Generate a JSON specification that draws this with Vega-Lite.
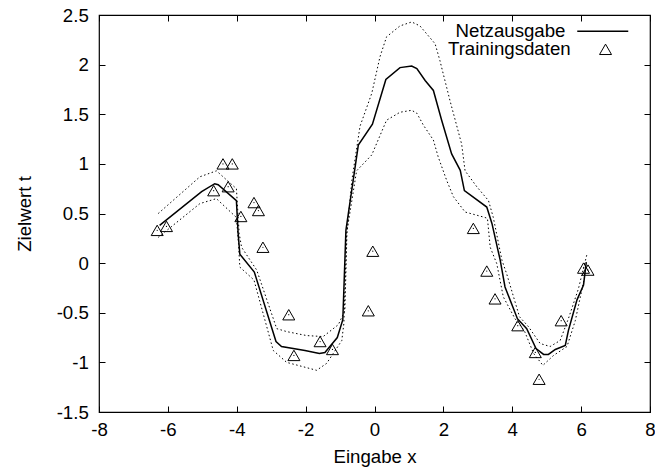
{
  "$schema": "https://vega.github.io/schema/vega-lite/v6.json",
  "width": 551,
  "height": 397,
  "autosize": {"type": "none"},
  "padding": {"left": 99, "top": 15, "right": 5, "bottom": 57},
  "background": "white",
  "config": {
    "font": "Liberation Sans",
    "view": {"stroke": "black", "strokeWidth": 1.2},
    "axis": {
      "grid": false,
      "domain": false,
      "tickColor": "black",
      "tickSize": -6,
      "tickWidth": 1,
      "labelColor": "black",
      "labelFont": "Liberation Sans",
      "labelFontSize": 18.67,
      "titleFont": "Liberation Sans",
      "titleFontSize": 18.67,
      "titleFontWeight": "normal",
      "titleColor": "black",
      "labelFlush": false,
      "labelOverlap": false
    },
    "legend": {
      "labelFont": "Liberation Sans",
      "labelFontSize": 18.67,
      "labelColor": "black",
      "padding": 0
    }
  },
  "datasets": {
    "net": [
      {"x": -6.24, "y": 0.38}, {"x": -5.02, "y": 0.72}, {"x": -4.64, "y": 0.80}, {"x": -4.54, "y": 0.79},
      {"x": -4.01, "y": 0.63}, {"x": -3.96, "y": 0.30}, {"x": -3.91, "y": 0.09}, {"x": -3.49, "y": -0.09},
      {"x": -2.86, "y": -0.79}, {"x": -2.70, "y": -0.84}, {"x": -2.02, "y": -0.88}, {"x": -1.60, "y": -0.91},
      {"x": -1.44, "y": -0.90}, {"x": -1.08, "y": -0.75}, {"x": -0.92, "y": -0.57}, {"x": -0.88, "y": -0.17},
      {"x": -0.83, "y": 0.33}, {"x": -0.47, "y": 1.19}, {"x": -0.06, "y": 1.40}, {"x": 0.33, "y": 1.85},
      {"x": 0.74, "y": 1.97}, {"x": 1.08, "y": 1.985}, {"x": 1.23, "y": 1.96}, {"x": 1.47, "y": 1.84},
      {"x": 1.71, "y": 1.74}, {"x": 1.95, "y": 1.44}, {"x": 2.24, "y": 1.10}, {"x": 2.49, "y": 0.935},
      {"x": 2.61, "y": 0.73}, {"x": 3.26, "y": 0.565}, {"x": 3.41, "y": 0.40}, {"x": 3.65, "y": 0.03},
      {"x": 3.79, "y": -0.24}, {"x": 4.15, "y": -0.56}, {"x": 4.42, "y": -0.66}, {"x": 4.69, "y": -0.86},
      {"x": 4.91, "y": -0.92}, {"x": 5.05, "y": -0.92}, {"x": 5.25, "y": -0.87}, {"x": 5.54, "y": -0.83},
      {"x": 5.63, "y": -0.68}, {"x": 5.88, "y": -0.37}, {"x": 6.07, "y": -0.22}, {"x": 6.15, "y": 0.01}
    ],
    "band": [
      {"s": "upper", "x": -6.28, "y": 0.50}, {"s": "upper", "x": -5.07, "y": 0.87}, {"s": "upper", "x": -4.59, "y": 0.93},
      {"s": "upper", "x": -4.01, "y": 0.75}, {"s": "upper", "x": -3.93, "y": 0.30}, {"s": "upper", "x": -3.86, "y": 0.16},
      {"s": "upper", "x": -3.42, "y": -0.07}, {"s": "upper", "x": -2.84, "y": -0.66}, {"s": "upper", "x": -2.55, "y": -0.69},
      {"s": "upper", "x": -1.97, "y": -0.73}, {"s": "upper", "x": -1.49, "y": -0.74}, {"s": "upper", "x": -1.05, "y": -0.62},
      {"s": "upper", "x": -0.86, "y": -0.48}, {"s": "upper", "x": -0.80, "y": 0.30}, {"s": "upper", "x": -0.66, "y": 0.83},
      {"s": "upper", "x": -0.42, "y": 1.38}, {"s": "upper", "x": -0.08, "y": 1.71}, {"s": "upper", "x": 0.16, "y": 2.08},
      {"s": "upper", "x": 0.35, "y": 2.28}, {"s": "upper", "x": 0.74, "y": 2.39}, {"s": "upper", "x": 1.08, "y": 2.43},
      {"s": "upper", "x": 1.32, "y": 2.39}, {"s": "upper", "x": 1.76, "y": 2.21}, {"s": "upper", "x": 1.90, "y": 2.04},
      {"s": "upper", "x": 2.19, "y": 1.64}, {"s": "upper", "x": 2.53, "y": 1.20}, {"s": "upper", "x": 2.63, "y": 0.93},
      {"s": "upper", "x": 2.97, "y": 0.77}, {"s": "upper", "x": 3.31, "y": 0.63}, {"s": "upper", "x": 3.45, "y": 0.46},
      {"s": "upper", "x": 3.70, "y": 0.03}, {"s": "upper", "x": 3.84, "y": -0.11}, {"s": "upper", "x": 4.21, "y": -0.54},
      {"s": "upper", "x": 4.47, "y": -0.64}, {"s": "upper", "x": 4.81, "y": -0.81}, {"s": "upper", "x": 5.10, "y": -0.84},
      {"s": "upper", "x": 5.39, "y": -0.78}, {"s": "upper", "x": 5.63, "y": -0.56}, {"s": "upper", "x": 5.92, "y": -0.26},
      {"s": "upper", "x": 6.17, "y": 0.09},
      {"s": "lower", "x": -6.28, "y": 0.26}, {"s": "lower", "x": -5.07, "y": 0.60}, {"s": "lower", "x": -4.59, "y": 0.65},
      {"s": "lower", "x": -4.01, "y": 0.46}, {"s": "lower", "x": -3.95, "y": 0.20}, {"s": "lower", "x": -3.91, "y": -0.04},
      {"s": "lower", "x": -3.50, "y": -0.17}, {"s": "lower", "x": -2.94, "y": -0.88}, {"s": "lower", "x": -2.55, "y": -1.00},
      {"s": "lower", "x": -1.68, "y": -1.08}, {"s": "lower", "x": -1.39, "y": -1.01}, {"s": "lower", "x": -0.95, "y": -0.78},
      {"s": "lower", "x": -0.89, "y": -0.61}, {"s": "lower", "x": -0.81, "y": 0.30}, {"s": "lower", "x": -0.52, "y": 0.93},
      {"s": "lower", "x": -0.08, "y": 1.09}, {"s": "lower", "x": 0.35, "y": 1.44}, {"s": "lower", "x": 0.74, "y": 1.52},
      {"s": "lower", "x": 1.08, "y": 1.54}, {"s": "lower", "x": 1.23, "y": 1.51}, {"s": "lower", "x": 1.42, "y": 1.39},
      {"s": "lower", "x": 1.71, "y": 1.24}, {"s": "lower", "x": 1.85, "y": 1.07}, {"s": "lower", "x": 2.10, "y": 0.83},
      {"s": "lower", "x": 2.29, "y": 0.67}, {"s": "lower", "x": 2.63, "y": 0.515}, {"s": "lower", "x": 3.21, "y": 0.46},
      {"s": "lower", "x": 3.28, "y": 0.45}, {"s": "lower", "x": 3.36, "y": 0.16}, {"s": "lower", "x": 3.55, "y": -0.005},
      {"s": "lower", "x": 3.74, "y": -0.34}, {"s": "lower", "x": 4.08, "y": -0.56}, {"s": "lower", "x": 4.35, "y": -0.68},
      {"s": "lower", "x": 4.62, "y": -0.91}, {"s": "lower", "x": 4.89, "y": -1.03}, {"s": "lower", "x": 5.20, "y": -0.93},
      {"s": "lower", "x": 5.59, "y": -0.84}, {"s": "lower", "x": 5.83, "y": -0.58}, {"s": "lower", "x": 6.10, "y": -0.14}
    ],
    "train": [
      {"x": -6.31, "y": 0.33}, {"x": -6.04, "y": 0.37}, {"x": -4.67, "y": 0.73}, {"x": -4.40, "y": 1.0},
      {"x": -4.13, "y": 1.0}, {"x": -4.25, "y": 0.77}, {"x": -3.88, "y": 0.47}, {"x": -3.50, "y": 0.61},
      {"x": -3.37, "y": 0.53}, {"x": -3.24, "y": 0.16}, {"x": -2.49, "y": -0.52}, {"x": -2.34, "y": -0.93},
      {"x": -1.58, "y": -0.79}, {"x": -1.22, "y": -0.87}, {"x": -0.18, "y": -0.48}, {"x": -0.05, "y": 0.12},
      {"x": 2.87, "y": 0.35}, {"x": 3.26, "y": -0.08}, {"x": 3.50, "y": -0.36}, {"x": 4.16, "y": -0.63},
      {"x": 4.67, "y": -0.90}, {"x": 4.78, "y": -1.17}, {"x": 5.42, "y": -0.58}, {"x": 6.07, "y": -0.05},
      {"x": 6.20, "y": -0.07}
    ]
  },
  "layer": [
    {
      "data": {"name": "band"},
      "mark": {"type": "line", "color": "black", "strokeWidth": 1, "strokeDash": [1.5, 2.5]},
      "encoding": {
        "x": {
          "field": "x", "type": "quantitative",
          "scale": {"domain": [-8, 8], "nice": false, "zero": false},
          "axis": {
            "orient": "bottom", "title": "Eingabe x",
            "values": [-8, -6, -4, -2, 0, 2, 4, 6, 8],
            "labelExpr": "(datum.value < 0 ? '-' : '') + format(abs(datum.value), '~g')",
            "labelPadding": 14.8, "titlePadding": 8
          }
        },
        "y": {
          "field": "y", "type": "quantitative",
          "scale": {"domain": [-1.5, 2.5], "nice": false, "zero": false},
          "axis": {
            "orient": "left", "title": "Zielwert t",
            "values": [-1.5, -1, -0.5, 0, 0.5, 1, 1.5, 2, 2.5],
            "labelExpr": "(datum.value < 0 ? '-' : '') + format(abs(datum.value), '~g')",
            "labelPadding": 16.7, "titlePadding": 22
          }
        },
        "detail": {"field": "s", "type": "nominal"}
      }
    },
    {
      "data": {"name": "net"},
      "mark": {"type": "line", "strokeWidth": 1.5},
      "encoding": {
        "x": {
          "field": "x", "type": "quantitative",
          "axis": {"orient": "top", "title": null, "labels": false, "values": [-8, -6, -4, -2, 0, 2, 4, 6, 8]}
        },
        "y": {
          "field": "y", "type": "quantitative",
          "axis": {"orient": "right", "title": null, "labels": false, "values": [-1.5, -1, -0.5, 0, 0.5, 1, 1.5, 2, 2.5]}
        },
        "color": {
          "datum": "Netzausgabe", "type": "nominal",
          "scale": {"range": ["black"]},
          "legend": {
            "title": null, "orient": "none", "legendX": 477.25, "legendY": -10.25,
            "symbolType": "stroke", "symbolSize": 2601, "symbolStrokeWidth": 1.5,
            "labelAlign": "right", "labelOffset": -63.75
          }
        }
      }
    },
    {
      "data": {"name": "train"},
      "mark": {"type": "point", "filled": false, "color": "black", "size": 144, "strokeWidth": 1, "opacity": 1},
      "encoding": {
        "x": {"field": "x", "type": "quantitative", "axis": null},
        "y": {"field": "y", "type": "quantitative", "axis": null},
        "shape": {
          "datum": "Trainingsdaten", "type": "nominal",
          "scale": {"range": ["triangle-up"]},
          "legend": {
            "title": null, "orient": "none", "legendX": 497.2, "legendY": 25,
            "symbolSize": 144, "symbolStrokeWidth": 1, "symbolStrokeColor": "black",
            "symbolFillColor": "transparent",
            "labelAlign": "right", "labelOffset": -44.2
          }
        }
      }
    },
    {
      "data": {"name": "train"},
      "mark": {"type": "point", "filled": true, "color": "black", "size": 1.5, "opacity": 1},
      "encoding": {
        "x": {"field": "x", "type": "quantitative", "axis": null},
        "y": {"field": "y", "type": "quantitative", "axis": null}
      }
    }
  ]
}
